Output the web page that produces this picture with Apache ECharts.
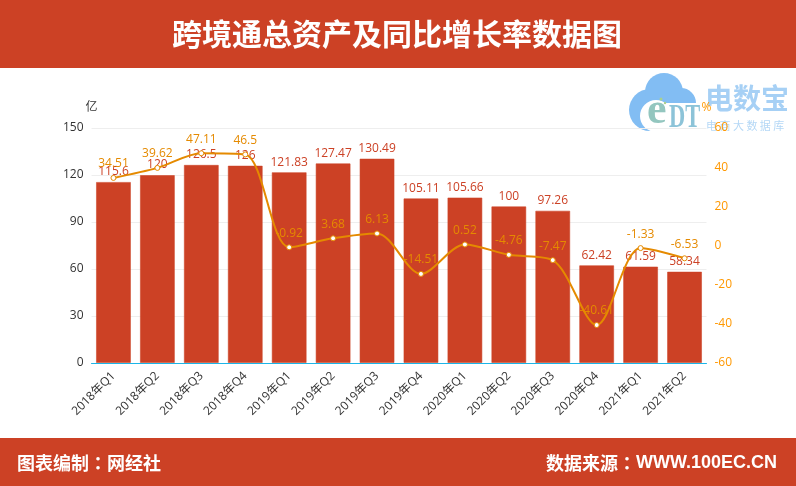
<!DOCTYPE html>
<html lang="zh">
<head>
    <meta charset="utf-8">
    <title>跨境通总资产及同比增长率数据图</title>
    <script src="https://cdn.jsdelivr.net/npm/echarts@6/dist/echarts.min.js"></script>
    <style>
        html, body { margin: 0; padding: 0; background: #fff; }
    </style>
</head>
<body>
<div id="main" style="width: 796px;height:486px;"></div>
<script type="text/javascript">
    var categories = ['2018年Q1', '2018年Q2', '2018年Q3', '2018年Q4', '2019年Q1', '2019年Q2', '2019年Q3',
        '2019年Q4', '2020年Q1', '2020年Q2', '2020年Q3', '2020年Q4', '2021年Q1', '2021年Q2'];
    var assets = [115.6, 120, 126.5, 126, 121.83, 127.47, 130.49, 105.11, 105.66, 100, 97.26, 62.42, 61.59, 58.34];
    var growth = [34.51, 39.62, 47.11, 46.5, -0.92, 3.68, 6.13, -14.51, 0.52, -4.76, -7.47, -40.61, -1.33, -6.53];

    var titleText = '跨境通总资产及同比增长率数据图';

    var RED = '#cc4125';
    var LINE = '#e58a00';
    var FONT = '"Open Sans", "Noto Sans CJK SC", sans-serif';
    var CJK = '"Noto Sans CJK SC", sans-serif';

    var myChart = echarts.init(document.getElementById('main'));

    // logo in the top right corner, sits behind the axis labels
    var logoBlue = '#82bdf3';
    var logo = [
        { type: 'circle', shape: { cx: 650, cy: 110, r: 21 }, style: { fill: logoBlue } },
        { type: 'circle', shape: { cx: 664, cy: 92, r: 19 }, style: { fill: logoBlue } },
        { type: 'circle', shape: { cx: 681, cy: 103, r: 15 }, style: { fill: logoBlue } },
        { type: 'circle', shape: { cx: 656, cy: 116, r: 16 }, style: { fill: '#fff' } },
        { type: 'rect', shape: { x: 656, y: 103, width: 42, height: 30 }, style: { fill: '#fff' } },
        { type: 'text', x: 647, y: 90, style: { text: 'e', fill: '#93c6bf', font: 'bold 44px "Liberation Serif"' } },
        { type: 'text', x: 669, y: 102, scaleX: 0.68, style: { text: 'DT', fill: '#8cc3d8', font: 'bold 33px "Liberation Serif"' } },
        { type: 'circle', shape: { cx: 661, cy: 99, r: 1.5 }, style: { fill: '#a9d08e' } },
        { type: 'circle', shape: { cx: 665, cy: 103, r: 1.2 }, style: { fill: '#a9d08e' } },
        { type: 'text', x: 705, y: 84, style: { text: '电数宝', fill: '#a6d0f5', font: 'bold 28px ' + CJK } },
        { type: 'text', x: 706, y: 120, style: { text: '电 商 大 数 据 库', fill: '#b5d8f6', font: '11px ' + CJK } }
    ];
    logo.forEach(function (el) {
        el.z = -1;
        el.silent = true;
        el.style.textVerticalAlign = el.type === 'text' ? 'top' : undefined;
    });

    var footerStyle = {
        a: { fontFamily: CJK, fontWeight: 'bold', fontSize: 18, fill: '#fff' },
        c: { fontFamily: '"Noto Sans CJK TC"', fontWeight: 'bold', fontSize: 18, fill: '#fff' },
        b: { fontFamily: '"Liberation Sans"', fontWeight: 'bold', fontSize: 18, fill: '#fff' }
    };

    var option = {
        animation: false,
        backgroundColor: '#fff',
        textStyle: { fontFamily: FONT },
        grid: { left: 91.5, right: 89.5, top: 128, bottom: 123 },
        xAxis: {
            type: 'category',
            data: categories,
            z: 5,
            axisLine: { lineStyle: { color: '#1cb5e8', width: 1 } },
            axisTick: { show: false },
            axisLabel: { color: '#333', fontSize: 12, rotate: 45, interval: 0, margin: 11 }
        },
        yAxis: [{
            type: 'value',
            name: '亿',
            min: 0,
            max: 150,
            interval: 30,
            nameGap: 14,
            nameTextStyle: { color: '#333', fontSize: 12, align: 'center' },
            axisLine: { show: false },
            axisTick: { show: false },
            axisLabel: { color: '#333', fontSize: 12, padding: [6, 0, 0, 0] },
            splitLine: { lineStyle: { color: '#eeeeee' } }
        }, {
            type: 'value',
            name: '%',
            min: -60,
            max: 60,
            interval: 20,
            nameGap: 14,
            nameTextStyle: { color: '#ff9800', fontSize: 12, align: 'center' },
            axisLine: { show: false },
            axisTick: { show: false },
            axisLabel: { color: '#ff9800', fontSize: 12, margin: 8, padding: [6, 0, 0, 0] },
            splitLine: { show: false }
        }],
        series: [{
            name: '总资产',
            type: 'bar',
            data: assets,
            barWidth: 35,
            itemStyle: { color: RED, borderColor: 'rgba(204,65,37,0.55)', borderWidth: 1 },
            label: { show: true, position: 'top', color: RED, fontSize: 12, distance: 4 }
        }, {
            name: '同比增长率',
            type: 'line',
            yAxisIndex: 1,
            data: growth,
            smooth: 0.3,
            symbol: 'circle',
            symbolSize: 5,
            lineStyle: { color: LINE, width: 2 },
            itemStyle: { color: '#fff', borderColor: LINE, borderWidth: 1 },
            label: { show: true, position: 'top', color: LINE, fontSize: 12, distance: 5 }
        }],
        graphic: [
            { type: 'group', children: logo },
            { type: 'rect', shape: { x: 0, y: 0, width: 796, height: 68 }, style: { fill: RED } },
            { type: 'rect', shape: { x: 0, y: 438, width: 796, height: 48 }, style: { fill: RED } },
            {
                type: 'text', x: 397, y: 34,
                style: { text: titleText, fill: '#fff', font: 'bold 30px ' + CJK, textAlign: 'center', textVerticalAlign: 'middle' }
            },
            {
                type: 'text', x: 17, y: 463,
                style: { text: '{a|图表编制}{c|：}{a|网经社}', rich: footerStyle, textVerticalAlign: 'middle' }
            },
            {
                type: 'text', x: 777, y: 463,
                style: { text: '{a|数据来源}{c|：}{b|WWW.100EC.CN}', rich: footerStyle, textAlign: 'right', textVerticalAlign: 'middle' }
            }
        ]
    };

    myChart.setOption(option);
</script>
</body>
</html>
